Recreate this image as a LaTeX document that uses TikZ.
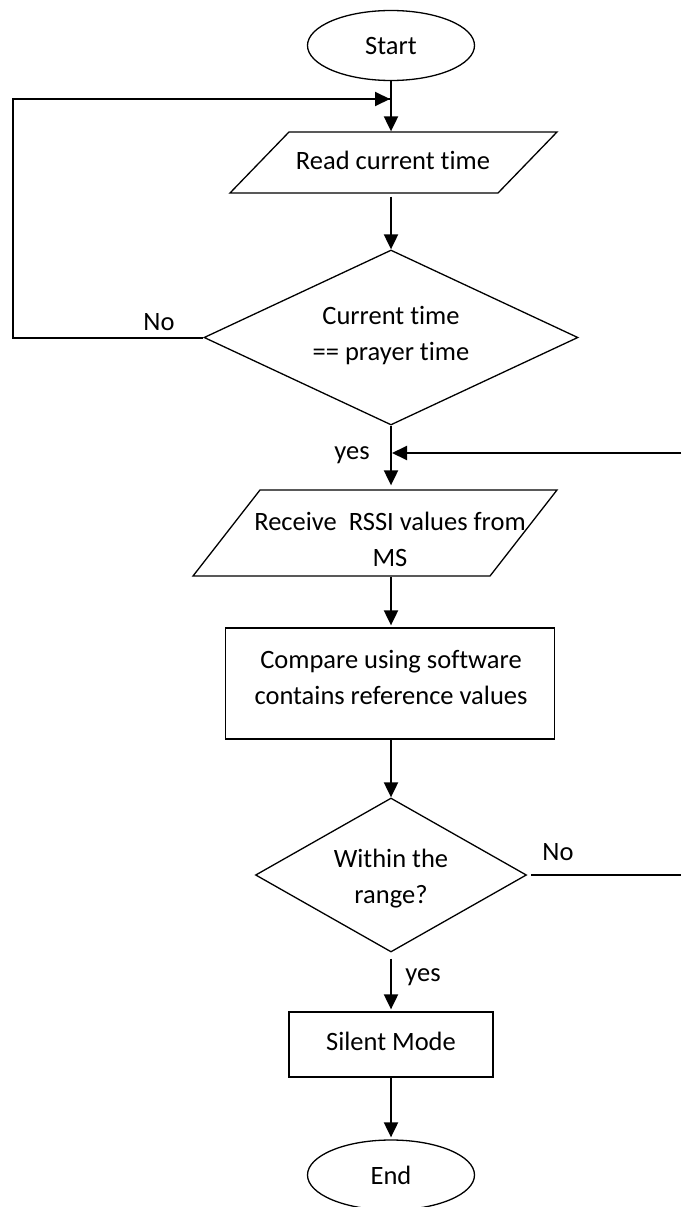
\documentclass[tikz,border=0pt]{standalone}
\usepackage{fontspec}
\setmainfont[Ligatures=NoCommon]{Carlito}
\usetikzlibrary{arrows.meta,shapes.geometric}
\begin{document}
\begin{tikzpicture}[x=1pt,y=-1pt,
  every node/.style={font=\fontsize{26.5}{36}\selectfont},
  outline/.style={draw=black,line width=1.3pt,inner sep=0pt},
  terminal/.style={outline,ellipse,minimum width=167pt,minimum height=70pt},
  process/.style={outline,rectangle},
  decision/.style={outline,diamond},
  iobox/.style={outline,rectangle,transform shape},
  caption/.style={inner sep=0pt,align=center},
  flow/.style={line width=2pt,-{Triangle[length=15pt,width=14pt]}},
  link/.style={line width=2pt},
]
\fill[white,use as bounding box] (0,0) rectangle (681,1207);

% main column axis
\coordinate (axis) at (391,0);

% shapes
\node[terminal] (start) at (391,45.5) {Start};
\begin{scope}[shift={(393.5,162.5)},xslant=0.967]
  \node[iobox,minimum width=268pt,minimum height=61pt] (read) at (0,0) {};
\end{scope}
\node[caption] (readtxt) at (393,160) {Read current time};

\node[decision,minimum width=374pt,minimum height=175pt] (check) at (391,337.5) {};
\node[caption] (checktxt) at (391,336) {Current time\\== prayer time};

\begin{scope}[shift={(375,533)},xslant=0.779]
  \node[iobox,minimum width=297pt,minimum height=86pt] (recv) at (0,0) {};
\end{scope}
\node[caption] (recvtxt) at (390,539) {Receive\ \ RSSI values from\\MS};

\node[process,minimum width=329pt,minimum height=111pt] (software) at (390,683.5) {};
\node[caption] (softtxt) at (391,677) {Compare using software\\contains reference values};

\node[decision,minimum width=271pt,minimum height=154pt] (range) at (391,875) {};
\node[caption] (rangetxt) at (391,879) {Within the\\range?};

\node[process,minimum width=204pt,minimum height=65pt] (silent) at (391,1044.5) {};
\node[caption] (silenttxt) at (391,1041) {Silent Mode};

\node[terminal] (finish) at (391,1175) {End};

% loop helpers
\coordinate (leftrail) at (13,0);
\coordinate (jointop) at (390,99);
\coordinate (joinmid) at (392,453);
\coordinate (righttop) at (681,453);
\coordinate (rightbot) at (681,875);

% connectors
\draw[flow] (start.south) -- (start.south |- read.north);
\draw[link] (check.west) -- (check.west -| leftrail) |- (jointop);
\draw[flow] (leftrail |- jointop) -- (jointop);
\draw[flow,shorten <=3pt] (axis |- read.south) -- (check.north);
\draw[flow,shorten >=4pt] (check.south) -- (check.south |- recv.north);
\draw[flow] (righttop) -- (joinmid);
\draw[flow,shorten >=2pt] (axis |- recv.south) -- (axis |- software.north);
\draw[flow] (axis |- software.south) -- (range.north);
\draw[link,shorten <=4pt] (range.east) -- (rightbot);
\draw[flow,shorten <=6pt,shorten >=2pt] (range.south) -- (range.south |- silent.north);
\draw[flow,shorten >=2pt] (silent.south) -- (finish.north);

% branch labels
\node[caption] (noleft) at (159,322) {No};
\node[caption] (yestop) at (352,455) {yes};
\node[caption] (noright) at (558,852) {No};
\node[caption] (yesbottom) at (423,977) {yes};
\end{tikzpicture}
\end{document}
